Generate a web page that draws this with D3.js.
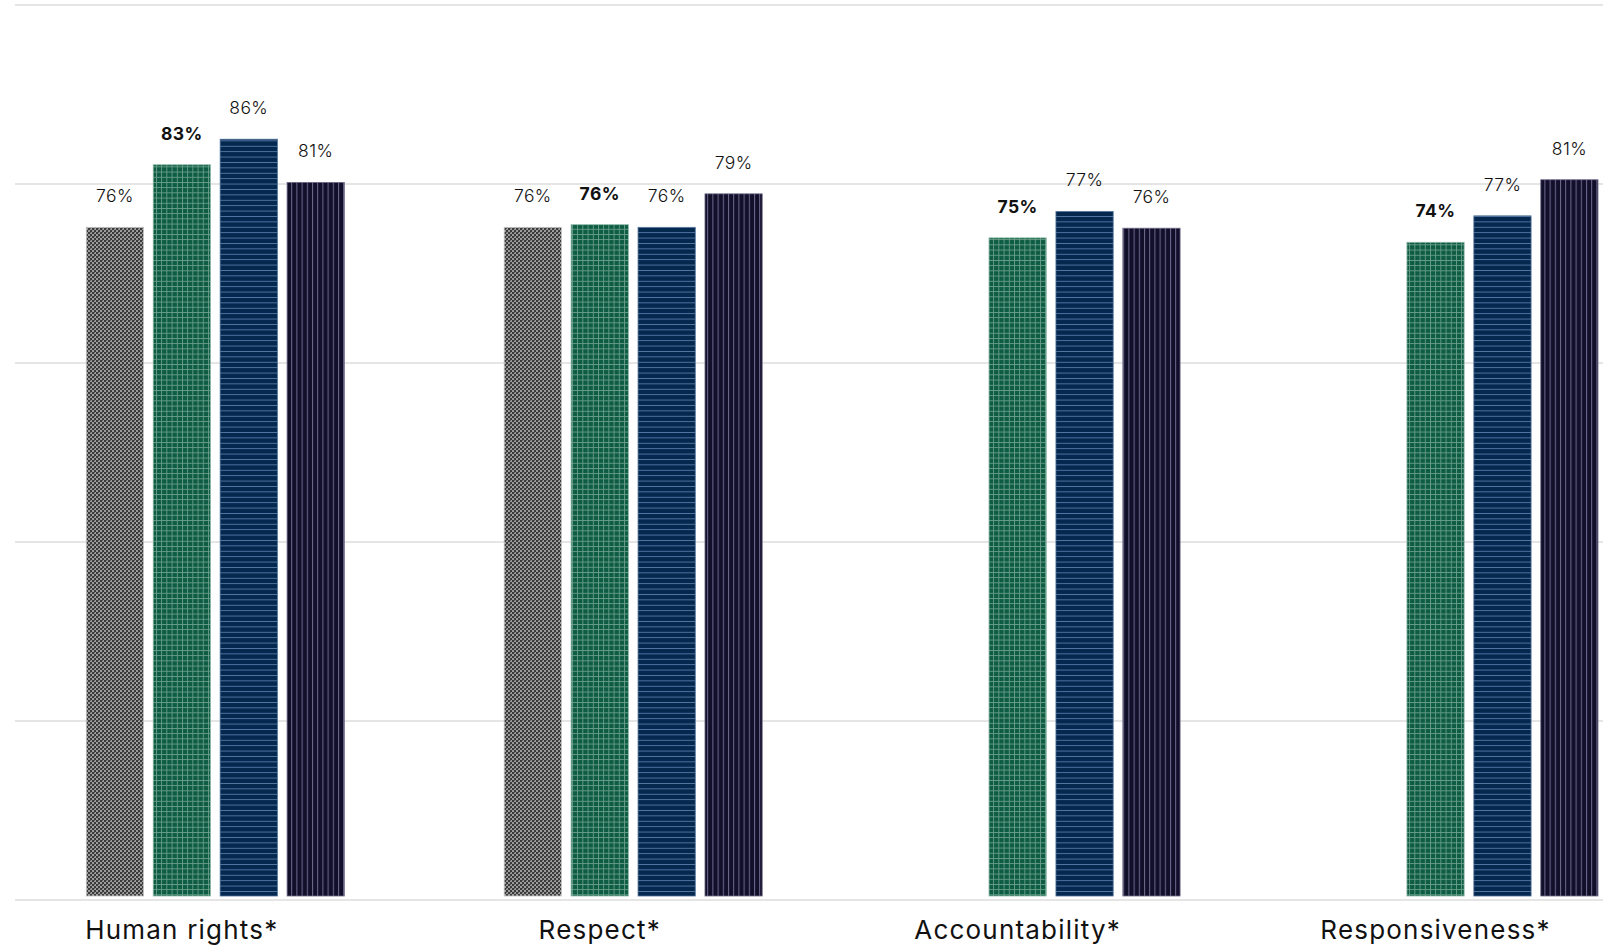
<!DOCTYPE html>
<html>
<head>
<meta charset="utf-8">
<script src="https://cdn.jsdelivr.net/npm/d3@7"></script>
<style>
  html, body { margin: 0; padding: 0; background: #ffffff; }
  svg { display: block; }
</style>
</head>
<body>
<svg id="chart" width="1611" height="946"></svg>
<script>
// ---- data ----
const categories = ["Human rights*", "Respect*", "Accountability*", "Responsiveness*"];
const seriesKeys = ["s1", "s2", "s3", "s4"];
const s1Values = [75.9, 75.9, null, null];
const s2Values = [83.0, 76.2, 74.7, 74.2];
const s3Values = [85.9, 75.9, 77.7, 77.2];
const s4Values = [81.0, 79.7, 75.8, 81.3];
const s1Labels = ["76%", "76%", null, null];
const s2Labels = ["83%", "76%", "75%", "74%"];
const s3Labels = ["86%", "76%", "77%", "77%"];
const s4Labels = ["81%", "79%", "76%", "81%"];
const gridTicks = [0, 20, 40, 60, 80, 100];

const seriesValues = [s1Values, s2Values, s3Values, s4Values];
const seriesLabels = [s1Labels, s2Labels, s3Labels, s4Labels];

// ---- setup ----
const svg = d3.select("#chart");
const defs = svg.append("defs");

// patterns
const pGray = defs.append("pattern").attr("id", "p-s1").attr("patternUnits", "userSpaceOnUse")
  .attr("width", 4).attr("height", 4);
pGray.append("rect").attr("width", 4).attr("height", 4).attr("fill", "#9c9c9c");
pGray.append("rect").attr("x", 0).attr("y", 0).attr("width", 2).attr("height", 2).attr("fill", "#3a3a3a");
pGray.append("rect").attr("x", 2).attr("y", 2).attr("width", 2).attr("height", 2).attr("fill", "#3a3a3a");
pGray.append("rect").attr("x", 2).attr("y", 0).attr("width", 1).attr("height", 1).attr("fill", "#666");

const pGreen = defs.append("pattern").attr("id", "p-s2").attr("patternUnits", "userSpaceOnUse")
  .attr("width", 5.2).attr("height", 5.2);
pGreen.append("rect").attr("width", 5.2).attr("height", 5.2).attr("fill", "#0d5c43");
pGreen.append("rect").attr("x", 0).attr("y", 0).attr("width", 0.9).attr("height", 5.2).attr("fill", "#6a9e89");
pGreen.append("rect").attr("x", 0).attr("y", 0).attr("width", 5.2).attr("height", 0.9).attr("fill", "#6a9e89");

const pBlue = defs.append("pattern").attr("id", "p-s3").attr("patternUnits", "userSpaceOnUse")
  .attr("width", 5).attr("height", 5.4);
pBlue.append("rect").attr("width", 5).attr("height", 5.4).attr("fill", "#05284f");
pBlue.append("rect").attr("x", 0).attr("y", 0).attr("width", 5).attr("height", 0.9).attr("fill", "#5479a5");

const pDark = defs.append("pattern").attr("id", "p-s4").attr("patternUnits", "userSpaceOnUse")
  .attr("width", 5.2).attr("height", 5);
pDark.append("rect").attr("width", 5.2).attr("height", 5).attr("fill", "#120f2b");
pDark.append("rect").attr("x", 0).attr("y", 0).attr("width", 1).attr("height", 5).attr("fill", "#6f6a8c");

const edgeColors = { s1: "#c4c4c4", s2: "#8cb8a6", s3: "#4d6f98", s4: "#6e6a88" };

// scales
const x = d3.scalePoint().domain(categories).range([215.3, 1469]).padding(0);
const xInner = d3.scaleBand().domain(seriesKeys).range([-129, 129]).paddingInner(0.145).paddingOuter(0);
const y = d3.scaleLinear().domain([0, 100]).range([896, 15]);
const yGrid = d3.scaleLinear().domain([0, 100]).range([900, 5]);

// gridlines
svg.append("g").selectAll("line").data(gridTicks).join("line")
  .attr("x1", 15).attr("x2", 1603)
  .attr("y1", d => yGrid(d)).attr("y2", d => yGrid(d))
  .attr("stroke", "#dcdcdc").attr("stroke-width", 1.6);

// bars
const flat = [];
categories.forEach((c, ci) => {
  seriesKeys.forEach((k, si) => {
    const v = seriesValues[si][ci];
    if (v != null) flat.push({ cat: c, key: k, value: v, label: seriesLabels[si][ci], bold: k === "s2" });
  });
});

svg.append("g").selectAll("rect").data(flat).join("rect")
  .attr("x", d => x(d.cat) + xInner(d.key))
  .attr("y", d => y(d.value))
  .attr("width", xInner.bandwidth())
  .attr("height", d => y(0) - y(d.value))
  .attr("fill", d => `url(#p-${d.key})`)
  .attr("stroke", d => edgeColors[d.key])
  .attr("stroke-width", 0.8);

// value labels
svg.append("g").selectAll("text").data(flat).join("text")
  .attr("x", d => x(d.cat) + xInner(d.key) + xInner.bandwidth() / 2)
  .attr("y", d => y(d.value) - 25)
  .attr("text-anchor", "middle")
  .attr("font-family", "Inter, 'Noto Sans', sans-serif")
  .attr("font-size", 17.5)
  .attr("letter-spacing", 0.4)
  .attr("font-weight", d => d.bold ? 700 : 300)
  .attr("fill", "#111")
  .text(d => d.label);

// category labels
svg.append("g").selectAll("text").data(categories).join("text")
  .attr("x", d => x(d) + xInner("s1") + (xInner("s3") + xInner.bandwidth() - xInner("s1")) / 2)
  .attr("y", 939)
  .attr("text-anchor", "middle")
  .attr("font-family", "Inter, 'Noto Sans', sans-serif")
  .attr("font-size", 26)
  .attr("letter-spacing", 1.2)
  .attr("font-weight", 400)
  .attr("fill", "#111")
  .text(d => d);
</script>
</body>
</html>
